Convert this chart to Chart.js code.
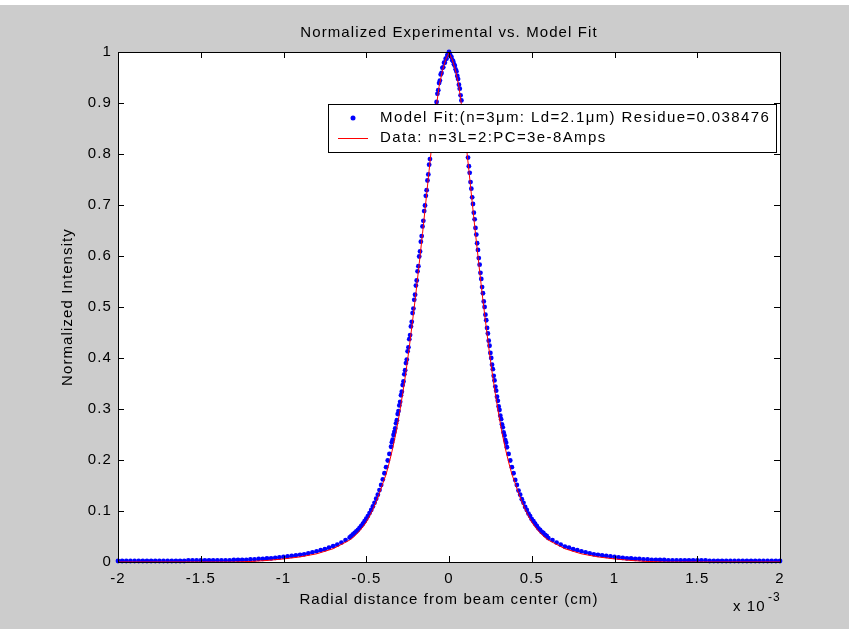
<!DOCTYPE html>
<html>
<head>
<meta charset="utf-8">
<script src="https://cdn.jsdelivr.net/npm/chart.js@4.4.1/dist/chart.umd.min.js"></script>
<style>
    html, body { margin: 0; padding: 0; background: #ffffff; }
    #wrap { position: absolute; left: 0; top: 0; width: 849px; height: 629px; }
</style>
</head>
<body>
<div id="wrap"><canvas id="chart"></canvas></div>
<script>
// Radial distance in units of 1e-3 cm (axis shows "x 10^-3")
const fitX = [
    -2, -1.975, -1.95, -1.925, -1.9, -1.875, -1.85, -1.825, -1.8, -1.775, -1.75, -1.725, -1.7, -1.675, -1.65, -1.625,
    -1.6, -1.575, -1.55, -1.525, -1.5, -1.475, -1.45, -1.425, -1.4, -1.375, -1.35, -1.325, -1.3, -1.275, -1.25, -1.225,
    -1.2, -1.175, -1.15, -1.125, -1.1, -1.075, -1.05, -1.025, -1, -0.975, -0.95, -0.925, -0.9, -0.875, -0.85, -0.825,
    -0.8, -0.775, -0.75, -0.725, -0.7, -0.675, -0.65, -0.625,
    -0.6, -0.59, -0.58, -0.57, -0.56, -0.55, -0.54, -0.53, -0.52, -0.51, -0.5, -0.49, -0.48, -0.47, -0.46, -0.45,
    -0.44, -0.43, -0.42, -0.41, -0.4, -0.39, -0.38, -0.37, -0.36,
    -0.35, -0.345, -0.34, -0.335, -0.33, -0.325, -0.32, -0.315, -0.31, -0.305, -0.3, -0.295, -0.29, -0.285, -0.28, -0.275,
    -0.27, -0.265, -0.26, -0.255, -0.25, -0.245, -0.24, -0.235, -0.23, -0.225, -0.22, -0.215, -0.21, -0.205, -0.2, -0.195,
    -0.19, -0.185, -0.18, -0.175, -0.17, -0.165, -0.16, -0.155, -0.15, -0.145, -0.14, -0.135, -0.13, -0.125, -0.12, -0.115,
    -0.11, -0.105, -0.1, -0.095, -0.09, -0.085, -0.08, -0.075, -0.07, -0.065, -0.06, -0.055, -0.05, -0.045, -0.04, -0.035,
    -0.03, -0.025, -0.02, -0.015, -0.01, -0.005, 0,
    0.005, 0.01, 0.015, 0.02, 0.025, 0.03, 0.035, 0.04, 0.045, 0.05, 0.055, 0.06, 0.065, 0.07, 0.075, 0.08,
    0.085, 0.09, 0.095, 0.1, 0.105, 0.11, 0.115, 0.12, 0.125, 0.13, 0.135, 0.14, 0.145, 0.15, 0.155, 0.16,
    0.165, 0.17, 0.175, 0.18, 0.185, 0.19, 0.195, 0.2, 0.205, 0.21, 0.215, 0.22, 0.225, 0.23, 0.235, 0.24,
    0.245, 0.25, 0.255, 0.26, 0.265, 0.27, 0.275, 0.28, 0.285, 0.29, 0.295, 0.3, 0.305, 0.31, 0.315, 0.32,
    0.325, 0.33, 0.335, 0.34, 0.345, 0.35,
    0.36, 0.37, 0.38, 0.39, 0.4, 0.41, 0.42, 0.43, 0.44, 0.45, 0.46, 0.47, 0.48, 0.49, 0.5, 0.51,
    0.52, 0.53, 0.54, 0.55, 0.56, 0.57, 0.58, 0.59, 0.6,
    0.625, 0.65, 0.675, 0.7, 0.725, 0.75, 0.775, 0.8, 0.825, 0.85, 0.875, 0.9, 0.925, 0.95, 0.975, 1,
    1.025, 1.05, 1.075, 1.1, 1.125, 1.15, 1.175, 1.2, 1.225, 1.25, 1.275, 1.3, 1.325, 1.35, 1.375, 1.4,
    1.425, 1.45, 1.475, 1.5, 1.525, 1.55, 1.575, 1.6, 1.625, 1.65, 1.675, 1.7, 1.725, 1.75, 1.775, 1.8,
    1.825, 1.85, 1.875, 1.9, 1.925, 1.95, 1.975, 2
];

const fitY = [
    0.002, 0.002, 0.002, 0.002, 0.002, 0.002, 0.002, 0.002, 0.002, 0.002, 0.002, 0.002, 0.002, 0.002, 0.002, 0.002,
    0.002, 0.003, 0.003, 0.003, 0.003, 0.003, 0.003, 0.003, 0.003, 0.003, 0.003, 0.003, 0.004, 0.004, 0.004, 0.004,
    0.005, 0.005, 0.006, 0.006, 0.007, 0.007, 0.008, 0.009, 0.010, 0.011, 0.012, 0.013, 0.014, 0.015, 0.017, 0.019,
    0.021, 0.023, 0.025, 0.028, 0.031, 0.034, 0.038, 0.043,
    0.048, 0.051, 0.054, 0.057, 0.060, 0.063, 0.067, 0.071, 0.075, 0.080, 0.085, 0.090, 0.096, 0.102, 0.109, 0.116,
    0.124, 0.132, 0.141, 0.151, 0.162, 0.174, 0.186, 0.199, 0.212,
    0.226, 0.235, 0.240, 0.249, 0.255, 0.262, 0.272, 0.278, 0.290, 0.296, 0.307, 0.314, 0.327, 0.334, 0.347, 0.354,
    0.368, 0.376, 0.390, 0.397, 0.413, 0.421, 0.437, 0.445, 0.462, 0.471, 0.488, 0.497, 0.514, 0.524, 0.542, 0.552,
    0.570, 0.580, 0.599, 0.609, 0.628, 0.639, 0.658, 0.669, 0.688, 0.699, 0.718, 0.729, 0.748, 0.760, 0.779, 0.790,
    0.810, 0.821, 0.840, 0.850, 0.868, 0.877, 0.894, 0.902, 0.918, 0.925, 0.939, 0.944, 0.956, 0.959, 0.969, 0.970,
    0.979, 0.979, 0.987, 0.987, 0.994, 0.995, 1.000,
    0.996, 0.992, 0.990, 0.984, 0.982, 0.976, 0.973, 0.966, 0.962, 0.953, 0.947, 0.936, 0.928, 0.915, 0.905, 0.891,
    0.880, 0.865, 0.853, 0.837, 0.824, 0.807, 0.793, 0.776, 0.763, 0.745, 0.732, 0.715, 0.702, 0.685, 0.672, 0.655,
    0.642, 0.625, 0.612, 0.596, 0.583, 0.567, 0.555, 0.539, 0.527, 0.511, 0.500, 0.485, 0.474, 0.459, 0.448, 0.434,
    0.424, 0.410, 0.400, 0.387, 0.378, 0.365, 0.356, 0.344, 0.336, 0.324, 0.316, 0.305, 0.298, 0.287, 0.280, 0.270,
    0.264, 0.254, 0.248, 0.239, 0.234, 0.225,
    0.212, 0.199, 0.186, 0.174, 0.161, 0.151, 0.140, 0.132, 0.123, 0.116, 0.108, 0.102, 0.095, 0.090, 0.084, 0.080,
    0.075, 0.071, 0.066, 0.063, 0.059, 0.057, 0.053, 0.051, 0.047,
    0.043, 0.038, 0.034, 0.030, 0.028, 0.025, 0.023, 0.021, 0.019, 0.017, 0.015, 0.014, 0.013, 0.012, 0.011, 0.010,
    0.009, 0.008, 0.007, 0.007, 0.006, 0.006, 0.005, 0.005, 0.004, 0.004, 0.004, 0.004, 0.003, 0.003, 0.003, 0.003,
    0.003, 0.003, 0.003, 0.003, 0.003, 0.003, 0.002, 0.002, 0.002, 0.002, 0.002, 0.002, 0.002, 0.002, 0.002, 0.002,
    0.002, 0.002, 0.002, 0.002, 0.002, 0.002, 0.002, 0.002
];

const dataX = [
    -2, -1.9, -1.8, -1.7, -1.6, -1.5, -1.4, -1.3, -1.2, -1.1, -1, -0.9, -0.8, -0.7,
    -0.6, -0.58, -0.56, -0.54, -0.52, -0.5, -0.48, -0.46, -0.44, -0.42, -0.4, -0.38, -0.36, -0.34, -0.32, -0.3,
    -0.28, -0.26, -0.24, -0.22, -0.2, -0.18, -0.16, -0.14, -0.12, -0.1, -0.08, -0.06, -0.04, -0.02, 0,
    0.02, 0.04, 0.06, 0.08, 0.1, 0.12, 0.14, 0.16, 0.18, 0.2, 0.22, 0.24, 0.26, 0.28, 0.3,
    0.32, 0.34, 0.36, 0.38, 0.4, 0.42, 0.44, 0.46, 0.48, 0.5, 0.52, 0.54, 0.56, 0.58, 0.6,
    0.7, 0.8, 0.9, 1, 1.1, 1.2, 1.3, 1.4, 1.5, 1.6, 1.7, 1.8, 1.9, 2
];

const dataY = [
    0, 0, 0, 0, 0, 0, 0, 0, 0.001, 0.003, 0.006, 0.010, 0.016, 0.026,
    0.043, 0.048, 0.054, 0.061, 0.069, 0.078, 0.090, 0.103, 0.118, 0.135, 0.154, 0.172, 0.196, 0.223, 0.254, 0.290,
    0.330, 0.373, 0.421, 0.473, 0.527, 0.585, 0.644, 0.706, 0.768, 0.830, 0.885, 0.932, 0.963, 0.985, 0.998,
    0.985, 0.963, 0.932, 0.885, 0.830, 0.768, 0.706, 0.644, 0.585, 0.527, 0.473, 0.421, 0.373, 0.330, 0.290,
    0.254, 0.223, 0.196, 0.172, 0.154, 0.135, 0.118, 0.103, 0.090, 0.078, 0.069, 0.061, 0.054, 0.048, 0.043,
    0.026, 0.016, 0.010, 0.006, 0.003, 0.001, 0, 0, 0, 0, 0, 0, 0, 0
];

const xTicks = [-2, -1.5, -1, -0.5, 0, 0.5, 1, 1.5, 2];
const yTicks = [0, 0.1, 0.2, 0.3, 0.4, 0.5, 0.6, 0.7, 0.8, 0.9, 1];

const fitLabel = 'Model Fit:(n=3\u03bcm: Ld=2.1\u03bcm) Residue=0.038476';
const dataLabel = 'Data: n=3L=2:PC=3e-8Amps';
const titleText = 'Normalized Experimental vs. Model Fit';
const xTitle = 'Radial distance from beam center (cm)';
const yTitle = 'Normalized Intensity';

const FONT = "'Liberation Sans', Arial, sans-serif";
const FONT_SIZE = 15;
const SPACING = '1.1px';

// MATLAB-like frame: grey figure, white axes, box with inward ticks, legend and labels
const matlabFrame =
{
    id: 'matlabFrame',

    beforeDraw(chart)
    {
        const { ctx, chartArea: a } = chart;
        ctx.save();
        ctx.fillStyle = '#cccccc';
        ctx.fillRect(0, 5, chart.width, chart.height - 5);
        ctx.fillStyle = '#ffffff';
        ctx.fillRect(a.left, a.top, a.right - a.left, a.bottom - a.top);
        ctx.restore();

        // wider MATLAB-style glyph spacing for the tick labels too
        ctx.letterSpacing = SPACING;
    },

    afterDraw(chart)
    {
        const { ctx, chartArea: a, scales } = chart;
        ctx.save();
        ctx.letterSpacing = SPACING;

        // box
        ctx.strokeStyle = '#000';
        ctx.lineWidth = 1;
        ctx.strokeRect(a.left + 0.5, a.top + 0.5, a.right - a.left, a.bottom - a.top);

        // inward ticks
        ctx.beginPath();
        xTicks.forEach(v =>
        {
            const px = Math.round(scales.x.getPixelForValue(v)) + 0.5;
            ctx.moveTo(px, a.bottom);
            ctx.lineTo(px, a.bottom - 6);
            ctx.moveTo(px, a.top);
            ctx.lineTo(px, a.top + 6);
        });
        yTicks.forEach(v =>
        {
            const py = Math.round(scales.y.getPixelForValue(v)) + 0.5;
            ctx.moveTo(a.left, py);
            ctx.lineTo(a.left + 6, py);
            ctx.moveTo(a.right, py);
            ctx.lineTo(a.right - 6, py);
        });
        ctx.stroke();

        // legend
        const lx = 328, ly = 104, lw = 448, lh = 48;
        ctx.fillStyle = '#ffffff';
        ctx.fillRect(lx, ly, lw, lh);
        ctx.strokeStyle = '#000';
        ctx.strokeRect(lx + 0.5, ly + 0.5, lw, lh);

        const fitSet = chart.data.datasets[0];
        const dataSet = chart.data.datasets[1];

        ctx.fillStyle = fitSet.backgroundColor;
        ctx.beginPath();
        ctx.arc(353, 118, 2.5, 0, Math.PI * 2);
        ctx.fill();

        ctx.strokeStyle = dataSet.borderColor;
        ctx.beginPath();
        ctx.moveTo(338, 138.5);
        ctx.lineTo(368, 138.5);
        ctx.stroke();

        ctx.fillStyle = '#000';
        ctx.font = FONT_SIZE + 'px ' + FONT;
        ctx.textAlign = 'left';
        ctx.textBaseline = 'middle';
        ctx.letterSpacing = '1.4px';
        ctx.fillText(fitSet.label, 380, 118);
        ctx.fillText(dataSet.label, 380, 138);
        ctx.letterSpacing = SPACING;

        // titles
        ctx.textAlign = 'center';
        ctx.fillText(titleText, (a.left + a.right) / 2, 33);
        ctx.fillText(xTitle, (a.left + a.right) / 2, 600);

        ctx.save();
        ctx.translate(68, (a.top + a.bottom) / 2);
        ctx.rotate(-Math.PI / 2);
        ctx.fillText(yTitle, 0, 0);
        ctx.restore();

        // exponent
        ctx.textAlign = 'left';
        ctx.fillText('x 10', 733, 607);
        ctx.font = '12px ' + FONT;
        ctx.fillText('-3', 768, 598);

        ctx.restore();
    }
};

new Chart(document.getElementById('chart'),
{
    type: 'scatter',

    data:
    {
        datasets:
        [
            {
                label: fitLabel,
                data: fitX.map((x, i) => ({ x: x, y: fitY[i] })),
                backgroundColor: '#0000ff',
                borderColor: '#0000ff',
                pointRadius: 2.4,
                pointBorderWidth: 0,
                showLine: false,
                order: 1,
                clip: 4
            },
            {
                label: dataLabel,
                data: dataX.map((x, i) => ({ x: x, y: dataY[i] })),
                borderColor: '#ff0000',
                backgroundColor: '#ff0000',
                borderWidth: 1,
                pointRadius: 0,
                showLine: true,
                tension: 0,
                order: 0,
                clip: 2
            }
        ]
    },

    options:
    {
        responsive: true,
        maintainAspectRatio: false,
        animation: false,
        events: [],

        layout:
        {
            padding: { top: 52, right: 69, bottom: 0, left: 0 }
        },

        plugins:
        {
            legend: { display: false },
            title: { display: false },
            tooltip: { enabled: false }
        },

        scales:
        {
            x:
            {
                type: 'linear',
                min: -2,
                max: 2,
                afterBuildTicks: (scale) => { scale.ticks = xTicks.map(v => ({ value: v })); },
                afterFit: (scale) => { scale.height = 629 - 562; },
                grid: { display: false, drawTicks: false },
                border: { display: false },
                ticks:
                {
                    padding: 8,
                    color: '#000',
                    font: { family: FONT, size: FONT_SIZE },
                    callback: (v) => String(v)
                }
            },

            y:
            {
                type: 'linear',
                min: 0,
                max: 1,
                afterBuildTicks: (scale) => { scale.ticks = yTicks.map(v => ({ value: v })); },
                afterFit: (scale) => { scale.width = 118; },
                grid: { display: false, drawTicks: false },
                border: { display: false },
                ticks:
                {
                    padding: 6,
                    color: '#000',
                    font: { family: FONT, size: FONT_SIZE },
                    callback: (v) => String(v)
                }
            }
        }
    },

    plugins: [matlabFrame]
});
</script>
</body>
</html>
